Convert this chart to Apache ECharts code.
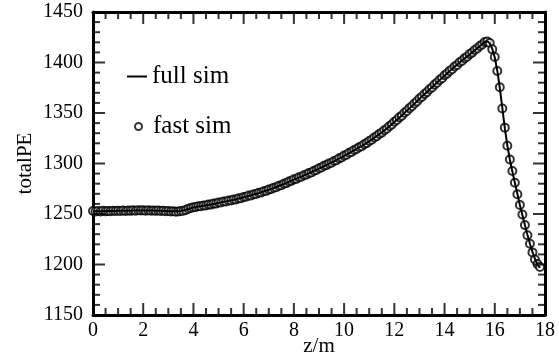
<!DOCTYPE html>
<html>
<head>
<meta charset="utf-8">
<script src="https://cdn.jsdelivr.net/npm/echarts@6/dist/echarts.min.js"></script>
<style>html,body{margin:0;padding:0;background:#fff;}#c{width:559px;height:364px;}</style>
</head>
<body>
<div id="c"></div>
<script>
// z positions: sampled every 0.1 m from 0 to 17.8 (index * 0.1)
var zStep = 0.1;
var xTicks = [0, 2, 4, 6, 8, 10, 12, 14, 16, 18];
var xMinorStep = 0.5;
var yTicks = [1150, 1200, 1250, 1300, 1350, 1400, 1450];
var yMinorStep = 10;
var seriesNames = ['full sim', 'fast sim'];
var axisNames = ['z/m', 'totalPE'];

var fullSim = [
  1252.5,1252.6,1252.7,1252.7,1252.8,1252.8,1252.9,1252.9,1253.0,1253.0,
  1253.1,1253.1,1253.2,1253.2,1253.3,1253.3,1253.4,1253.4,1253.5,1253.5,
  1253.5,1253.5,1253.5,1253.4,1253.4,1253.3,1253.2,1253.1,1253.0,1252.9,
  1252.8,1252.7,1252.6,1252.6,1252.7,1253.0,1253.5,1254.2,1255.0,1255.8,
  1256.5,1257.0,1257.4,1257.8,1258.2,1258.6,1259.0,1259.5,1260.0,1260.5,
  1261.0,1261.5,1262.0,1262.5,1263.0,1263.5,1264.0,1264.6,1265.2,1265.8,
  1266.5,1267.2,1267.9,1268.6,1269.3,1270.0,1270.7,1271.5,1272.3,1273.1,
  1274.0,1274.9,1275.8,1276.7,1277.7,1278.7,1279.7,1280.8,1281.9,1283.0,
  1284.0,1285.0,1286.0,1287.0,1288.1,1289.2,1290.3,1291.4,1292.6,1293.8,
  1295.0,1296.2,1297.4,1298.6,1299.8,1301.0,1302.2,1303.5,1304.8,1306.1,
  1307.5,1308.9,1310.3,1311.7,1313.1,1314.5,1315.9,1317.3,1318.8,1320.4,
  1322.0,1323.7,1325.4,1327.2,1329.0,1330.8,1332.7,1334.6,1336.6,1338.8,
  1341.0,1343.2,1345.4,1347.6,1349.9,1352.2,1354.5,1356.8,1359.1,1361.5,
  1364.0,1366.3,1368.6,1370.9,1373.2,1375.5,1377.8,1380.1,1382.4,1384.7,
  1387.0,1389.2,1391.4,1393.6,1395.7,1397.8,1399.9,1402.0,1404.0,1406.0,
  1408.0,1410.0,1412.0,1414.0,1416.0,1418.0,1420.5,1421.0,1419.0,1413.5,
  1405.0,1392.0,1375.0,1355.0,1335.0,1318.0,1304.0,1292.0,1281.0,1270.0,
  1259.0,1249.0,1239.0,1229.5,1220.5,1212.5,1205.5,1200.0,1197.0
];

var fastSim = [
  1253.0,1252.4,1252.9,1252.5,1253.1,1252.6,1253.0,1252.8,1253.3,1252.9,
  1253.2,1252.9,1253.5,1253.0,1253.4,1253.1,1253.6,1253.3,1253.7,1253.4,
  1253.6,1253.3,1253.7,1253.2,1253.5,1253.1,1253.4,1252.9,1253.2,1252.7,
  1252.9,1252.4,1252.7,1252.2,1252.5,1252.9,1253.2,1254.0,1255.3,1255.9,
  1256.8,1256.9,1257.7,1257.6,1258.5,1258.4,1259.3,1259.3,1260.3,1260.3,
  1261.3,1261.3,1262.3,1262.3,1263.3,1263.3,1264.3,1264.4,1265.5,1265.6,
  1266.8,1267.0,1268.2,1268.4,1269.6,1269.8,1271.0,1271.3,1272.6,1272.9,
  1274.3,1274.7,1276.1,1276.5,1278.0,1278.5,1280.0,1280.6,1282.2,1282.8,
  1284.3,1284.8,1286.3,1286.8,1288.4,1289.0,1290.6,1291.2,1292.9,1293.6,
  1295.3,1296.0,1297.7,1298.4,1300.1,1300.8,1302.5,1303.3,1305.1,1305.9,
  1307.8,1308.7,1310.6,1311.5,1313.4,1314.3,1316.2,1317.1,1319.1,1320.2,
  1322.3,1323.5,1325.7,1327.0,1329.3,1330.6,1333.0,1334.4,1336.9,1338.6,
  1341.3,1343.0,1345.7,1347.4,1350.2,1352.0,1354.8,1356.6,1359.4,1361.3,
  1364.3,1366.1,1368.9,1370.7,1373.5,1375.3,1378.1,1379.9,1382.7,1384.5,
  1387.3,1389.0,1391.7,1393.4,1396.0,1397.6,1400.2,1401.8,1404.3,1405.8,
  1408.3,1409.8,1412.3,1413.8,1416.3,1417.8,1420.2,1420.8,1419.3,1413.0,
  1405.4,1391.5,1375.5,1354.5,1335.5,1317.5,1304.0,1292.5,1281.0,1269.5,
  1259.0,1249.5,1239.0,1229.0,1220.5,1212.0,1205.0,1200.5,1197.5
];

function pairs(vals) {
  return vals.map(function (v, i) { return [Math.round(i * zStep * 10) / 10, v]; });
}

var FONT = "'Liberation Serif','DejaVu Serif',serif";
var X_MIN = xTicks[0], X_MAX = xTicks[xTicks.length - 1];
var Y_MIN = yTicks[0], Y_MAX = yTicks[yTicks.length - 1];
var MAJOR_LEN = 12, MINOR_LEN = 7, TICK_W = 2;

// inside tick marks on all four sides, drawn as rect symbols at the axis positions
function xTickItems(yPos, dir) {
  var out = [], n = Math.round((X_MAX - X_MIN) / xMinorStep);
  for (var i = 0; i <= n; i++) {
    var v = X_MIN + i * xMinorStep;
    var len = xTicks.indexOf(v) >= 0 ? MAJOR_LEN : MINOR_LEN;
    out.push({ value: [v, yPos], symbolSize: [TICK_W, len], symbolOffset: [0, dir * len / 2] });
  }
  return out;
}
function yTickItems(xPos, dir) {
  var out = [], n = Math.round((Y_MAX - Y_MIN) / yMinorStep);
  for (var j = 0; j <= n; j++) {
    var w = Y_MIN + j * yMinorStep;
    var len = yTicks.indexOf(w) >= 0 ? MAJOR_LEN : MINOR_LEN;
    out.push({ value: [xPos, w], symbolSize: [len, TICK_W], symbolOffset: [dir * len / 2, 0] });
  }
  return out;
}
function tickSeries(name, data) {
  return { name: name, type: 'scatter', xAxisIndex: 0, yAxisIndex: 0, data: data, symbol: 'rect',
    clip: false, silent: true, z: 10, itemStyle: { color: '#000' } };
}

function axisCfg(dim, pos, showLabel) {
  var isX = dim === 'x';
  var cfg = {
    type: 'value', position: pos,
    min: isX ? X_MIN : Y_MIN, max: isX ? X_MAX : Y_MAX,
    interval: isX ? (xTicks[1] - xTicks[0]) : (yTicks[1] - yTicks[0]),
    axisLine: { show: true, onZero: false, lineStyle: { color: '#000', width: 3 } },
    axisTick: { show: false },
    axisLabel: { show: showLabel, margin: isX ? 6 : 10, fontFamily: FONT, fontSize: 20, color: '#000',
      formatter: function (v) { return String(v); } },
    splitLine: { show: false }
  };
  if (showLabel) {
    cfg.name = isX ? axisNames[0] : axisNames[1];
    cfg.nameLocation = 'middle';
    cfg.nameGap = isX ? 21 : 57;
    cfg.nameMoveOverlap = false;
    cfg.nameTextStyle = { fontFamily: FONT, fontSize: 21, color: '#000' };
  }
  return cfg;
}

var chart = echarts.init(document.getElementById('c'));
chart.setOption({
  animation: false,
  grid: { left: 93, right: 14, top: 12, bottom: 49, containLabel: false, outerBoundsMode: 'none' },
  xAxis: [axisCfg('x', 'bottom', true), axisCfg('x', 'top', false)],
  yAxis: [axisCfg('y', 'left', true), axisCfg('y', 'right', false)],
  legend: [
    { data: [{ name: seriesNames[0], icon: 'rect' }], left: 127, top: 64, padding: 0, itemWidth: 20, itemHeight: 2,
      textStyle: { fontFamily: FONT, fontSize: 25, color: '#000' } },
    { data: [{ name: seriesNames[1], icon: 'emptyCircle' }], left: 134, top: 114, padding: 0, itemWidth: 7, itemHeight: 7,
      textStyle: { fontFamily: FONT, fontSize: 25, color: '#000', padding: [0, 0, 0, 6] } }
  ],
  series: [
    tickSeries('tickBottom', xTickItems(Y_MIN, -1)),
    tickSeries('tickTop', xTickItems(Y_MAX, 1)),
    tickSeries('tickLeft', yTickItems(X_MIN, 1)),
    tickSeries('tickRight', yTickItems(X_MAX, -1)),
    { name: seriesNames[0], type: 'line', xAxisIndex: 0, yAxisIndex: 0, data: pairs(fullSim), symbol: 'none',
      lineStyle: { color: '#000', width: 2 }, itemStyle: { color: '#000' }, z: 3 },
    { name: seriesNames[1], type: 'scatter', xAxisIndex: 0, yAxisIndex: 0, data: pairs(fastSim),
      symbol: 'emptyCircle', symbolSize: 8,
      itemStyle: { color: '#000', borderWidth: 1 }, z: 2 }
  ]
});
</script>
</body>
</html>
